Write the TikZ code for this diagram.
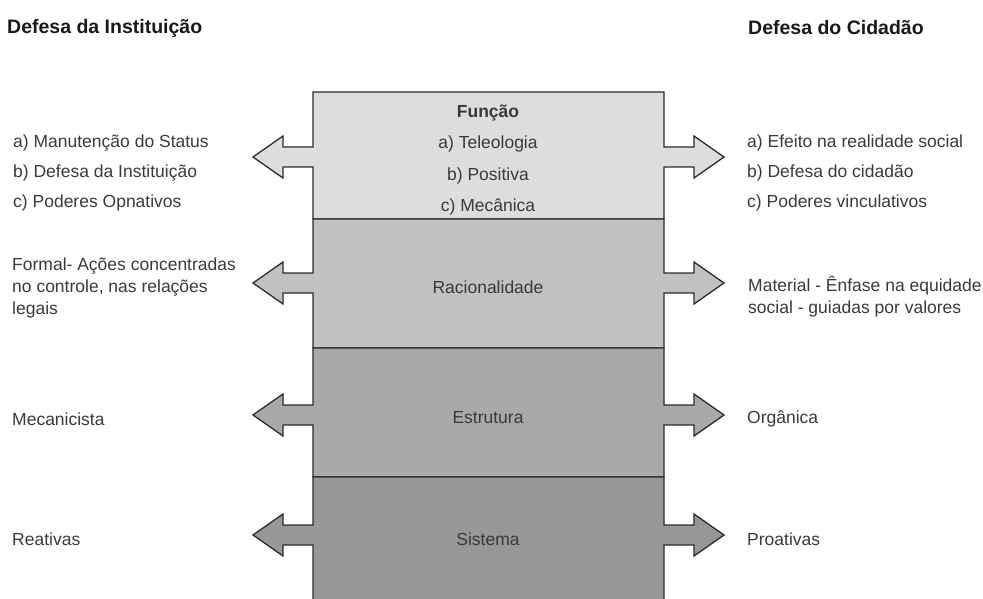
\documentclass[tikz,border=0pt]{standalone}
\usepackage{fontspec}
\setmainfont{Liberation Sans}
\usetikzlibrary{positioning}

\definecolor{txtgray}{HTML}{3A3A3A}
\definecolor{boxline}{HTML}{2B2B2B}
\definecolor{bandA}{HTML}{DDDDDD}
\definecolor{bandB}{HTML}{C1C1C1}
\definecolor{bandC}{HTML}{A9A9A9}
\definecolor{bandD}{HTML}{979797}

\begin{document}
\begin{tikzpicture}
    [x=1pt, y=-1pt,
    every node/.style={text=txtgray, inner sep=0pt, font=\fontsize{17.5}{21}\selectfont},
    band/.style={draw=boxline, line width=1.3pt, line join=miter},
    side/.style={anchor=west, align=left},
    list/.style={font=\fontsize{17.5}{30}\selectfont},
    midlist/.style={font=\fontsize{17.5}{31.5}\selectfont},
    para/.style={font=\fontsize{17.5}{22}\selectfont},
    title/.style={anchor=west, text=black!90, font=\fontsize{19.5}{23}\selectfont\bfseries}
    ]
    \useasboundingbox (0,0) rectangle (983,599);

    % bands with their arrows
    \draw[band, fill=bandA] (313,92) -- (313,147) -- ++(-30,0) -- ++(0,-11) -- ++(-30,21) -- ++(30,21) -- ++(0,-11)
        -- (313,167) -- (313,219) -- (664,219) -- (664,167) -- ++(30,0) -- ++(0,11) -- ++(30,-21) -- ++(-30,-21)
        -- ++(0,11) -- (664,147) -- (664,92) -- cycle;
    \draw[band, fill=bandB] (313,219) -- (313,273) -- ++(-30,0) -- ++(0,-11) -- ++(-30,21) -- ++(30,21) -- ++(0,-11)
        -- (313,293) -- (313,348) -- (664,348) -- (664,293) -- ++(30,0) -- ++(0,11) -- ++(30,-21) -- ++(-30,-21)
        -- ++(0,11) -- (664,273) -- (664,219) -- cycle;
    \draw[band, fill=bandC] (313,348) -- (313,405) -- ++(-30,0) -- ++(0,-11) -- ++(-30,21) -- ++(30,21) -- ++(0,-11)
        -- (313,425) -- (313,477) -- (664,477) -- (664,425) -- ++(30,0) -- ++(0,11) -- ++(30,-21) -- ++(-30,-21)
        -- ++(0,11) -- (664,405) -- (664,348) -- cycle;
    \draw[band, fill=bandD] (313,477) -- (313,525) -- ++(-30,0) -- ++(0,-11) -- ++(-30,21) -- ++(30,21) -- ++(0,-11)
        -- (313,545) -- (313,612) -- (664,612) -- (664,545) -- ++(30,0) -- ++(0,11) -- ++(30,-21) -- ++(-30,-21)
        -- ++(0,11) -- (664,525) -- (664,477) -- cycle;

    % titles
    \node (instTitle) [title] at (7,28) {Defesa da Institui\c{c}\~ao};
    \node (cidTitle) [title] at (748,28) {Defesa do Cidad\~ao};

    % centre column
    \node (funcao) [midlist, align=center] at (488,160) {\textbf{Fun\c{c}\~ao}\\a) Teleologia\\b) Positiva\\c) Mec\^anica};
    \node (racion) at (488,287) {Racionalidade};
    \node (estrut) at (488,418) {Estrutura};
    \node (sistema) at (488,539) {Sistema};

    % left side
    \node (inst1) [side, list] at (13,173) {a) Manuten\c{c}\~ao do Status\\b) Defesa da Institui\c{c}\~ao\\c) Poderes Opnativos};
    \node (inst2) [side, para] at (12,288) {Formal- A\c{c}\~oes concentradas\\no controle, nas rela\c{c}\~oes\\legais};
    \node (inst3) [side] at (12,419) {Mecanicista};
    \node (inst4) [side] at (12,539) {Reativas};

    % right side
    \node (cid1) [side, list] at (747,173) {a) Efeito na realidade social\\b) Defesa do cidad\~ao\\c) Poderes vinculativos};
    \node (cid2) [side, para] at (748,297) {Material - \^Enfase na equidade\\social - guiadas por valores};
    \node (cid3) [side] at (747,419) {Org\^anica};
    \node (cid4) [side] at (747,539) {Proativas};
\end{tikzpicture}
\end{document}
